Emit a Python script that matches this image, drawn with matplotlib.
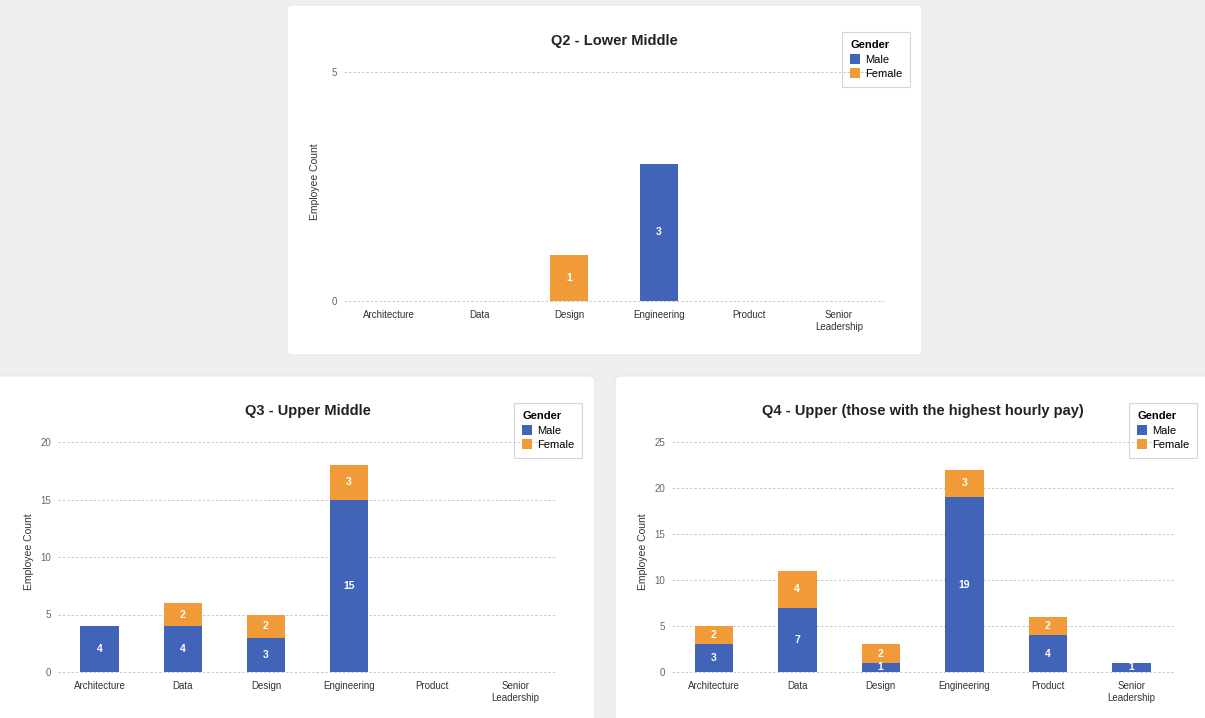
import matplotlib
matplotlib.use("Agg")
import matplotlib.pyplot as plt
from matplotlib.patches import FancyBboxPatch, Patch
from matplotlib.transforms import IdentityTransform

plt.rcParams['font.family'] = ['Liberation Sans', 'DejaVu Sans']

# 数据
categories = ['Architecture', 'Data', 'Design', 'Engineering', 'Product', 'Senior\nLeadership']
q2_male = [0, 0, 0, 3, 0, 0]
q2_female = [0, 0, 1, 0, 0, 0]
q3_male = [4, 4, 3, 15, 0, 0]
q3_female = [0, 2, 2, 3, 0, 0]
q4_male = [3, 7, 1, 19, 4, 1]
q4_female = [2, 4, 2, 3, 2, 0]

MALE = '#4163b8'
FEMALE = '#f19b38'
W, H = 1205, 718

fig = plt.figure(figsize=(W / 100, H / 100), dpi=100, facecolor='#efefef')


def card(x0, y0, x1, y1):
    p = FancyBboxPatch((x0, H - y1), x1 - x0, y1 - y0,
                       boxstyle='round,pad=0,rounding_size=5',
                       facecolor='white', edgecolor='#e6e6e6', linewidth=0.8,
                       transform=IdentityTransform(), zorder=0)
    fig.add_artist(p)


def panel(x0, x1, ytop, ybot, ymax, male, female, title, leg_x, leg_y):
    ax = fig.add_axes([x0 / W, 1 - ybot / H, (x1 - x0) / W, (ybot - ytop) / H])
    ax.set_facecolor('none')
    x = range(len(categories))
    bw = 38.5 / ((x1 - x0) / len(categories))
    ax.bar(x, male, width=bw, color=MALE, zorder=3)
    ax.bar(x, female, width=bw, bottom=male, color=FEMALE, zorder=3)
    for i in x:
        if male[i] > 0:
            ax.text(i, male[i] / 2, str(male[i]), ha='center', va='center',
                    color='white', fontsize=7.5, fontweight='bold', zorder=4)
        if female[i] > 0:
            ax.text(i, male[i] + female[i] / 2, str(female[i]), ha='center', va='center',
                    color='white', fontsize=7.5, fontweight='bold', zorder=4)
    ax.set_xlim(-0.5, len(categories) - 0.5)
    ax.set_ylim(0, ymax)
    ax.set_yticks(range(0, ymax + 1, 5))
    ax.set_xticks(list(x))
    ax.set_xticklabels(categories, fontsize=7, color='#333333', linespacing=1.3)
    ax.tick_params(axis='x', length=0, pad=6.5)
    ax.tick_params(axis='y', length=0, pad=5, labelsize=7, labelcolor='#666666')
    for s in ax.spines.values():
        s.set_visible(False)
    ax.grid(axis='y', color='#c8c8c8', linestyle=(0, (2.5, 2)), linewidth=0.7, zorder=1)
    for gl in ax.get_ygridlines():
        gl.set_clip_on(False)
    ax.set_axisbelow(True)
    xc = (x0 + x1) / 2
    fig.text(xc / W, 1 - (ytop - 31) / H, title, ha='center', va='center',
             fontsize=10.5, fontweight='bold', color='#222222')
    fig.text((x0 - 29) / W, 1 - ((ytop + ybot) / 2 - 5) / H, 'Employee Count', rotation=90,
             ha='center', va='center', fontsize=7.5, color='#333333')
    handles = [Patch(facecolor=MALE, label='Male'), Patch(facecolor=FEMALE, label='Female')]
    leg = ax.legend(handles=handles, title='Gender', loc='upper left',
                    bbox_to_anchor=(leg_x / W, 1 - leg_y / H), bbox_transform=fig.transFigure,
                    borderaxespad=0, fontsize=8, title_fontproperties={'weight': 'bold', 'size': 8},
                    handlelength=0.9, handleheight=1.05, handletextpad=0.4, labelspacing=0.3,
                    borderpad=0.75, fancybox=False, edgecolor='#cccccc')
    leg._legend_box.align = 'left'
    leg.get_frame().set_facecolor('none')
    leg.get_frame().set_linewidth(0.8)
    return ax


card(287, 5, 922, 355)
card(-10, 376, 595, 740)
card(615, 376, 1220, 740)

panel(344, 884, 72, 301, 5, q2_male, q2_female, 'Q2 - Lower Middle', 842, 32)
panel(58, 557, 442, 672, 20, q3_male, q3_female, 'Q3 - Upper Middle', 514, 403)
panel(672, 1173, 442, 672, 25, q4_male, q4_female,
      'Q4 - Upper (those with the highest hourly pay)', 1129, 403)

plt.savefig('out.png', dpi=100, facecolor=fig.get_facecolor())
